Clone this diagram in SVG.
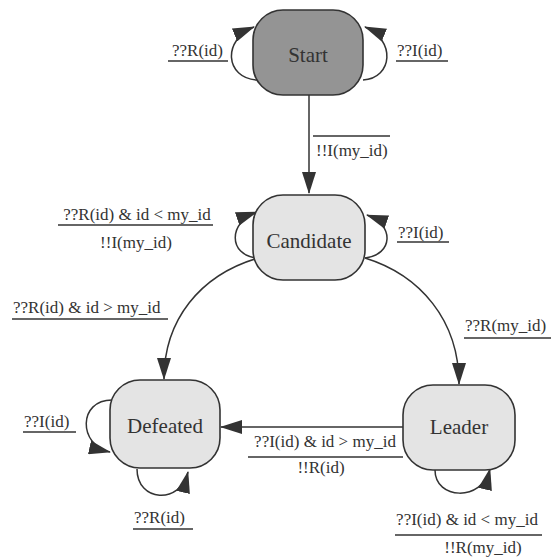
<svg xmlns="http://www.w3.org/2000/svg" width="552" height="560" viewBox="0 0 552 560">
<defs>
<style>
.node{fill:#e4e4e4;stroke:#333;stroke-width:1.6}
.start{fill:#949494}
.nl{font-family:"Liberation Serif",serif;font-size:21px;fill:#333;text-anchor:middle}
.el{font-family:"Liberation Serif",serif;font-size:17px;fill:#333}
.c{text-anchor:middle}
.e{fill:none;stroke:#333;stroke-width:1.5;marker-end:url(#ah)}
.u{stroke:#333;stroke-width:1.3}
</style>
<marker id="ah" markerUnits="userSpaceOnUse" markerWidth="22" markerHeight="14" refX="21" refY="7" orient="auto">
<path d="M0,0 L22,7 L0,14 z" fill="#333"/>
</marker>
</defs>
<rect width="552" height="560" fill="#fff"/>
<g id="connectors">
<path class="e" d="M309,95 L309,193"/>
<path class="e" d="M403,427 L221,427"/>
<path class="e" d="M258,258 C200,275 164,320 164,379"/>
<path class="e" d="M365,258 C420,275 459,320 459,384"/>
<path class="e" d="M257,80 C225,78 222,40 254,27"/>
<path class="e" d="M363,80 C393,78 396,40 365,27"/>
<path class="e" d="M257,258 C228,255 228,222 257,212"/>
<path class="e" d="M365,258 C393,255 395,225 367,215"/>
<path class="e" d="M112,400 C78,400 78,445 110,452"/>
<path class="e" d="M137,469 C137,502 180,505 188,472"/>
<path class="e" d="M435,470 C435,500 482,502 490,469"/>
</g>
<g id="labels">
<text class="el" x="172" y="56">??R(id)</text>
<line class="u" x1="168" y1="61" x2="228" y2="61"/>
<text class="el" x="397" y="56">??I(id)</text>
<line class="u" x1="396" y1="61" x2="448" y2="61"/>
<line class="u" x1="313" y1="136" x2="390" y2="136"/>
<text class="el" x="316" y="156">!!I(my_id)</text>
<text class="el c" x="137" y="220">??R(id) &amp; id &lt; my_id</text>
<line class="u" x1="58" y1="225" x2="213" y2="225"/>
<text class="el c" x="136" y="248">!!I(my_id)</text>
<text class="el" x="398" y="238">??I(id)</text>
<line class="u" x1="397" y1="242" x2="449" y2="242"/>
<text class="el" x="13" y="313">??R(id) &amp; id &gt; my_id</text>
<line class="u" x1="12" y1="319" x2="168" y2="319"/>
<text class="el" x="465" y="331">??R(my_id)</text>
<line class="u" x1="464" y1="338" x2="551" y2="338"/>
<text class="el c" x="325" y="447">??I(id) &amp; id &gt; my_id</text>
<line class="u" x1="248" y1="457" x2="403" y2="457"/>
<text class="el c" x="321" y="473">!!R(id)</text>
<text class="el" x="24" y="427">??I(id)</text>
<line class="u" x1="23" y1="432" x2="76" y2="432"/>
<text class="el" x="134" y="523">??R(id)</text>
<line class="u" x1="133" y1="529" x2="193" y2="529"/>
<text class="el c" x="467" y="525">??I(id) &amp; id &lt; my_id</text>
<line class="u" x1="395" y1="535" x2="542" y2="535"/>
<text class="el c" x="483" y="553">!!R(my_id)</text>
</g>
<g id="start">
<rect class="node start" x="253" y="10" width="110" height="85" rx="30" ry="30"/>
<text class="nl" x="308" y="62">Start</text>
</g>
<g id="candidate">
<rect class="node" x="253" y="195" width="112" height="85" rx="30" ry="30"/>
<text class="nl" x="309" y="248">Candidate</text>
</g>
<g id="defeated">
<rect class="node" x="110" y="380" width="110" height="88" rx="30" ry="30"/>
<text class="nl" x="165" y="433">Defeated</text>
</g>
<g id="leader">
<rect class="node" x="403" y="385" width="112" height="85" rx="30" ry="30"/>
<text class="nl" x="459" y="434">Leader</text>
</g>
</svg>
